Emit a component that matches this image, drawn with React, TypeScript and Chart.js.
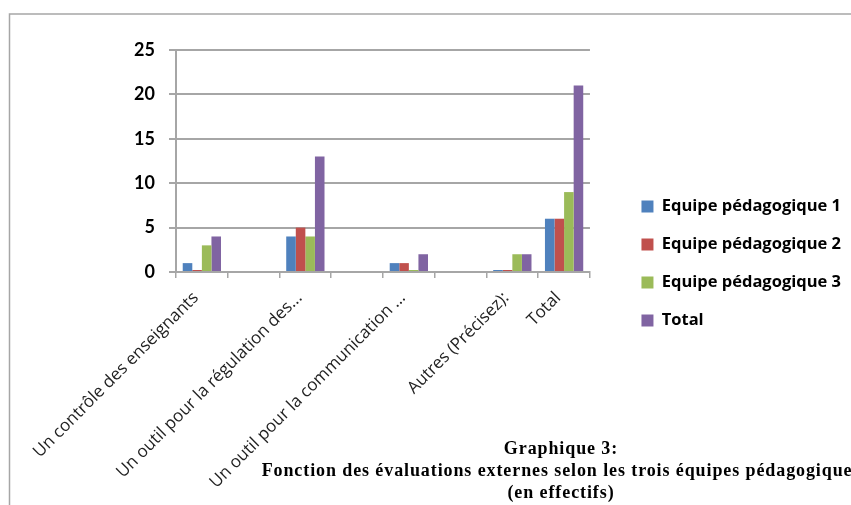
import React, { useEffect, useRef } from "react";
import { Chart, registerables } from "chart.js";

Chart.register(...registerables);

const categories = [
  "Un contrôle des enseignants",
  "",
  "Un outil pour la régulation des...",
  "",
  "Un outil pour la communication ...",
  "",
  "Autres (Précisez):",
  "Total",
];
const seriesNames = ["Equipe pédagogique 1", "Equipe pédagogique 2", "Equipe pédagogique 3", "Total"];
const equipe1 = [1, null, 4, null, 1, null, 0, 6];
const equipe2 = [0, null, 5, null, 1, null, 0, 6];
const equipe3 = [3, null, 4, null, 0, null, 2, 9];
const totals = [4, null, 13, null, 2, null, 2, 21];
const colors = ["#4F81BD", "#C0504D", "#9BBB59", "#8064A2"];
const yTicks = [0, 5, 10, 15, 20, 25];
const titleLines = [
  "Graphique 3:",
  "Fonction des évaluations externes selon les trois équipes pédagogiques",
  "(en effectifs)",
];

const framePlugin = {
  id: "frame",
  beforeDraw(chart: any) {
    const { ctx, width, height } = chart;
    ctx.save();
    ctx.fillStyle = "#ffffff";
    ctx.fillRect(0, 0, width, height);
    ctx.strokeStyle = "#a6a6a6";
    ctx.lineWidth = 1.5;
    ctx.beginPath();
    ctx.moveTo(9.5, height);
    ctx.lineTo(9.5, 14);
    ctx.lineTo(width, 14);
    ctx.stroke();
    ctx.restore();
  },
};

const titlePlugin = {
  id: "bottomTitle",
  afterDraw(chart: any) {
    const { ctx } = chart;
    ctx.save();
    ctx.fillStyle = "#000000";
    ctx.font = "bold 18px 'Liberation Serif'";
    try {
      (ctx as any).letterSpacing = "0.9px";
    } catch (e) {}
    ctx.textAlign = "center";
    ctx.textBaseline = "alphabetic";
    const baselines = [454, 476, 498];
    titleLines.forEach((t, i) => ctx.fillText(t, 561, baselines[i]));
    ctx.restore();
  },
};

export default function App() {
  const ref = useRef<HTMLCanvasElement | null>(null);
  useEffect(() => {
    document.body.style.margin = "0";
    if (!ref.current) return;
    const data = [equipe1, equipe2, equipe3, totals];
    const chart = new Chart(ref.current, {
      type: "bar",
      data: {
        labels: categories,
        datasets: data.map((d, i) => ({
          label: seriesNames[i],
          data: d,
          backgroundColor: colors[i],
          borderWidth: 0,
          minBarLength: 2,
          categoryPercentage: 0.74,
          barPercentage: 1,
        })),
      },
      options: {
        animation: false,
        responsive: false,
        layout: { padding: { left: 0, right: 0, top: 30, bottom: 8 } },
        plugins: {
          legend: {
            position: "right",
            maxWidth: 240,
            labels: {
              boxWidth: 12,
              boxHeight: 12,
              padding: 21.5,
              color: "#000000",
              font: { family: "Open Sans", size: 16.5, weight: "bold" },
            },
          },
          tooltip: { enabled: false },
          title: { display: false },
        },
        scales: {
          x: {
            offset: true,
            grid: {
              offset: true,
              drawOnChartArea: false,
              drawTicks: true,
              tickLength: 6,
              color: "#a6a6a6",
              lineWidth: 1.5,
            },
            border: { display: true, color: "#a6a6a6", width: 2 },
            ticks: {
              autoSkip: false,
              maxRotation: 45,
              minRotation: 45,
              padding: 10,
              labelOffset: -6,
              color: "#222222",
              font: { family: "Open Sans", size: 17 },
            },
            afterFit: (s: any) => {
              s.height = 225;
            },
          },
          xTop: {
            type: "category",
            position: "top",
            grid: { display: false },
            border: { display: false },
            ticks: { display: false },
            afterFit: (s: any) => {
              s.height = 20;
            },
          },
          y: {
            min: 0,
            max: 25,
            afterBuildTicks: (s: any) => {
              s.ticks = yTicks.map((v) => ({ value: v }));
            },
            grid: {
              color: "#a6a6a6",
              lineWidth: 2,
              tickLength: 7,
            },
            border: { display: true, color: "#a6a6a6", width: 2 },
            ticks: {
              padding: 14,
              color: "#000000",
              font: { family: "Lato", size: 18, weight: "bold" },
            },
            afterFit: (s: any) => {
              s.width = 176;
            },
          },
          y2: {
            position: "right",
            min: 0,
            max: 25,
            grid: { display: false },
            border: { display: false },
            ticks: { display: false },
            afterFit: (s: any) => {
              s.width = 30;
            },
          },
        },
      },
      plugins: [framePlugin, titlePlugin],
    });
    return () => chart.destroy();
  }, []);
  return (
    <div style={{ width: 851, height: 505 }}>
      <canvas ref={ref} width={851} height={505} />
    </div>
  );
}
